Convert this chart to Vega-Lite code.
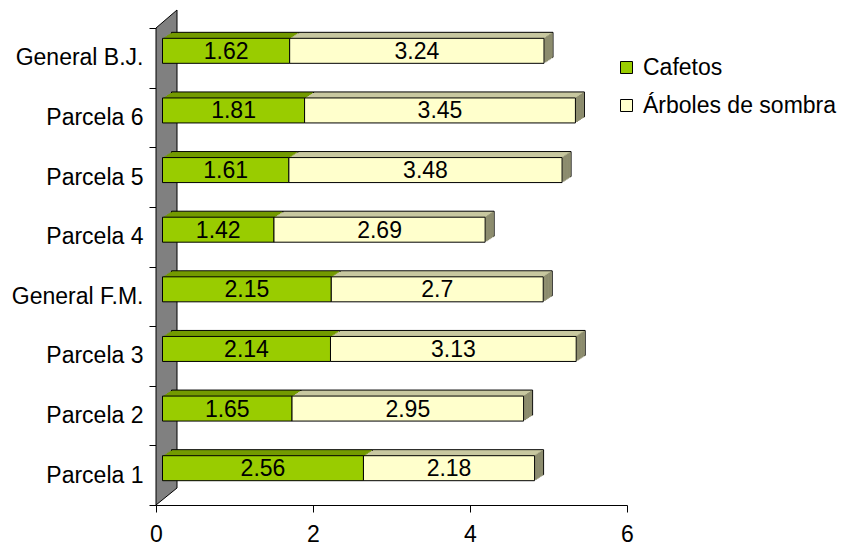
{
  "$schema": "https://vega.github.io/schema/vega-lite/v6.json",
  "width": 471,
  "height": 477,
  "autosize": {"type": "none"},
  "padding": {"left": 156, "top": 28, "right": 214, "bottom": 44},
  "background": "white",
  "config": {
    "view": {"stroke": null},
    "font": "Liberation Sans",
    "axis": {"zindex": 1}
  },
  "data": {
    "values": [
      {"parcela": "Parcela 1", "serie": "Cafetos", "valor": 2.56},
      {"parcela": "Parcela 1", "serie": "Árboles de sombra", "valor": 2.18},
      {"parcela": "Parcela 2", "serie": "Cafetos", "valor": 1.65},
      {"parcela": "Parcela 2", "serie": "Árboles de sombra", "valor": 2.95},
      {"parcela": "Parcela 3", "serie": "Cafetos", "valor": 2.14},
      {"parcela": "Parcela 3", "serie": "Árboles de sombra", "valor": 3.13},
      {"parcela": "General F.M.", "serie": "Cafetos", "valor": 2.15},
      {"parcela": "General F.M.", "serie": "Árboles de sombra", "valor": 2.7},
      {"parcela": "Parcela 4", "serie": "Cafetos", "valor": 1.42},
      {"parcela": "Parcela 4", "serie": "Árboles de sombra", "valor": 2.69},
      {"parcela": "Parcela 5", "serie": "Cafetos", "valor": 1.61},
      {"parcela": "Parcela 5", "serie": "Árboles de sombra", "valor": 3.48},
      {"parcela": "Parcela 6", "serie": "Cafetos", "valor": 1.81},
      {"parcela": "Parcela 6", "serie": "Árboles de sombra", "valor": 3.45},
      {"parcela": "General B.J.", "serie": "Cafetos", "valor": 1.62},
      {"parcela": "General B.J.", "serie": "Árboles de sombra", "valor": 3.24}
    ]
  },
  "transform": [
    {"stack": "valor", "groupby": ["parcela"], "sort": [{"field": "serie", "order": "ascending"}], "as": ["x0", "x1"]},
    {"calculate": "(datum.x0 + datum.x1) / 2", "as": "xmid"}
  ],
  "encoding": {
    "y": {
      "field": "parcela",
      "type": "nominal",
      "sort": ["General B.J.", "Parcela 6", "Parcela 5", "Parcela 4", "General F.M.", "Parcela 3", "Parcela 2", "Parcela 1"],
      "scale": {"paddingInner": 0, "paddingOuter": 0},
      "axis": {
        "title": null,
        "tickBand": "extent",
        "tickSize": 7,
        "tickColor": "black",
        "domainColor": "black",
        "labelFontSize": 23,
        "labelColor": "black",
        "labelPadding": 6
      }
    }
  },
  "layer": [
    {
      "data": {"values": [{}]},
      "mark": {
        "type": "point",
        "shape": "M0,-0.954L0.084,-1.026L0.084,0.886L0,0.954Z",
        "size": 250000,
        "filled": true,
        "fill": "#808080",
        "stroke": "black",
        "strokeWidth": 1,
        "opacity": 1
      },
      "encoding": {
        "x": {"datum": 0, "type": "quantitative"},
        "y": null
      }
    },
    {
      "mark": {"type": "bar", "height": 25, "xOffset": 15.5, "x2Offset": 15.5, "yOffset": -13, "stroke": "black", "strokeWidth": 1},
      "encoding": {
        "x": {"field": "x0", "type": "quantitative"},
        "x2": {"field": "x1"},
        "fill": {"condition": {"test": "datum.serie === 'Cafetos'", "value": "#739a00"}, "value": "#c8c8a0"}
      }
    },
    {
      "mark": {"type": "bar", "height": 25, "xOffset": 14, "x2Offset": 14, "yOffset": -12},
      "encoding": {
        "x": {"field": "x0", "type": "quantitative"},
        "x2": {"field": "x1"},
        "fill": {"condition": {"test": "datum.serie === 'Cafetos'", "value": "#739a00"}, "value": "#c8c8a0"}
      }
    },
    {
      "mark": {"type": "bar", "height": 25, "xOffset": 12.5, "x2Offset": 12.5, "yOffset": -11},
      "encoding": {
        "x": {"field": "x0", "type": "quantitative"},
        "x2": {"field": "x1"},
        "fill": {"condition": {"test": "datum.serie === 'Cafetos'", "value": "#739a00"}, "value": "#c8c8a0"}
      }
    },
    {
      "mark": {"type": "bar", "height": 25, "xOffset": 11, "x2Offset": 11, "yOffset": -10},
      "encoding": {
        "x": {"field": "x0", "type": "quantitative"},
        "x2": {"field": "x1"},
        "fill": {"condition": {"test": "datum.serie === 'Cafetos'", "value": "#739a00"}, "value": "#c8c8a0"}
      }
    },
    {
      "mark": {"type": "bar", "height": 25, "xOffset": 9.5, "x2Offset": 9.5, "yOffset": -9},
      "encoding": {
        "x": {"field": "x0", "type": "quantitative"},
        "x2": {"field": "x1"},
        "fill": {"condition": {"test": "datum.serie === 'Cafetos'", "value": "#739a00"}, "value": "#c8c8a0"}
      }
    },
    {
      "mark": {"type": "bar", "height": 25, "xOffset": 8, "x2Offset": 8, "yOffset": -8},
      "encoding": {
        "x": {"field": "x0", "type": "quantitative"},
        "x2": {"field": "x1"},
        "fill": {"condition": {"test": "datum.serie === 'Cafetos'", "value": "#739a00"}, "value": "#c8c8a0"}
      }
    },
    {
      "transform": [{"filter": "datum.serie !== 'Cafetos'"}],
      "mark": {"type": "tick", "orient": "vertical", "size": 25, "thickness": 2, "xOffset": 8, "yOffset": -8, "color": "#8c8c6e", "opacity": 1},
      "encoding": {"x": {"field": "x1", "type": "quantitative"}}
    },
    {
      "transform": [{"filter": "datum.serie !== 'Cafetos'"}],
      "mark": {"type": "tick", "orient": "vertical", "size": 25, "thickness": 2, "xOffset": 9.5, "yOffset": -9, "color": "#8c8c6e", "opacity": 1},
      "encoding": {"x": {"field": "x1", "type": "quantitative"}}
    },
    {
      "transform": [{"filter": "datum.serie !== 'Cafetos'"}],
      "mark": {"type": "tick", "orient": "vertical", "size": 25, "thickness": 2, "xOffset": 11, "yOffset": -10, "color": "#8c8c6e", "opacity": 1},
      "encoding": {"x": {"field": "x1", "type": "quantitative"}}
    },
    {
      "transform": [{"filter": "datum.serie !== 'Cafetos'"}],
      "mark": {"type": "tick", "orient": "vertical", "size": 25, "thickness": 2, "xOffset": 12.5, "yOffset": -11, "color": "#8c8c6e", "opacity": 1},
      "encoding": {"x": {"field": "x1", "type": "quantitative"}}
    },
    {
      "transform": [{"filter": "datum.serie !== 'Cafetos'"}],
      "mark": {"type": "tick", "orient": "vertical", "size": 25, "thickness": 2, "xOffset": 14, "yOffset": -12, "color": "#8c8c6e", "opacity": 1},
      "encoding": {"x": {"field": "x1", "type": "quantitative"}}
    },
    {
      "mark": {"type": "bar", "height": 25, "xOffset": 6.5, "x2Offset": 6.5, "yOffset": -7, "stroke": "black", "strokeWidth": 1, "opacity": 1},
      "encoding": {
        "x": {
          "field": "x0",
          "type": "quantitative",
          "scale": {"domain": [0, 6], "nice": false, "zero": true},
          "axis": {
            "title": null,
            "values": [0, 2, 4, 6],
            "format": "d",
            "grid": false,
            "tickSize": 7,
            "tickColor": "black",
            "domainColor": "black",
            "labelFontSize": 23,
            "labelColor": "black",
            "labelFlush": false,
            "labelPadding": 11
          }
        },
        "x2": {"field": "x1"},
        "color": {
          "field": "serie",
          "type": "nominal",
          "scale": {"domain": ["Cafetos", "Árboles de sombra"], "range": ["#99cc00", "#ffffcc"]},
          "legend": {
            "title": null,
            "orient": "none",
            "legendX": 459,
            "legendY": 28,
            "symbolType": "square",
            "symbolSize": 144,
            "symbolStrokeColor": "black",
            "symbolStrokeWidth": 1,
            "symbolOpacity": 1,
            "labelFontSize": 23,
            "labelColor": "black",
            "labelOffset": 5,
            "labelLimit": 300,
            "rowPadding": 14
          }
        }
      }
    },
    {
      "mark": {"type": "text", "xOffset": 6.5, "yOffset": -6, "fontSize": 23, "color": "black", "align": "center", "baseline": "middle"},
      "encoding": {
        "x": {"field": "xmid", "type": "quantitative"},
        "text": {"field": "valor", "type": "quantitative"}
      }
    }
  ]
}
